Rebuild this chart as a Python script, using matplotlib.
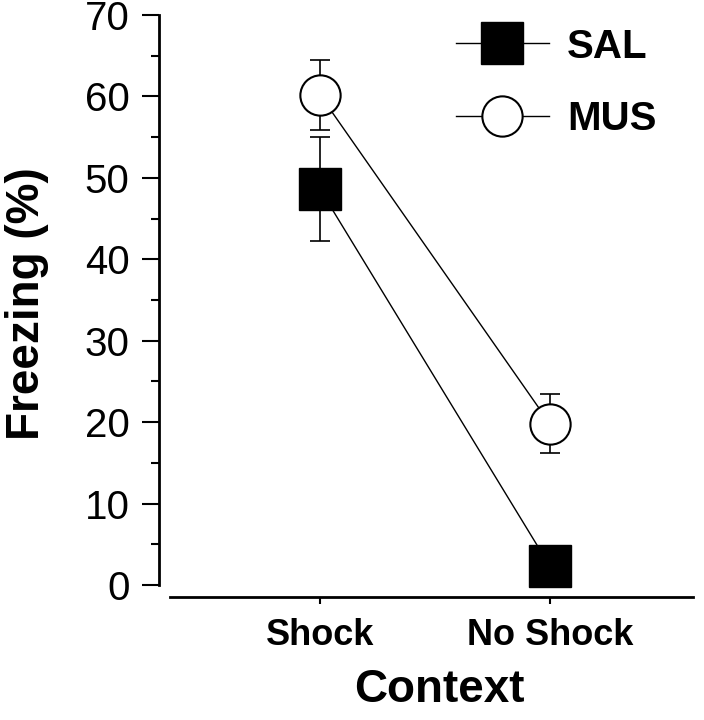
import matplotlib
matplotlib.use('Agg')
import matplotlib.pyplot as plt

# data
contexts = ['Shock', 'No Shock']
sal_mean = [48.6, 2.3]
sal_err = [6.4, 1.0]
mus_mean = [60.2, 19.8]
mus_err = [4.3, 3.6]

plt.rcParams['font.family'] = ['Liberation Sans', 'DejaVu Sans']

fig = plt.figure(figsize=(7.04, 7.20), dpi=100)
ax = fig.add_axes([170 / 704, 135 / 720, 523 / 704, 570 / 720])

x = list(range(len(contexts)))

# error bars first, markers on top
ax.errorbar(x, sal_mean, yerr=sal_err, fmt='none', ecolor='black',
            elinewidth=1.2, capsize=7, capthick=1.2, zorder=2, clip_on=False)
ax.errorbar(x, mus_mean, yerr=mus_err, fmt='none', ecolor='black',
            elinewidth=1.2, capsize=7, capthick=1.2, zorder=2, clip_on=False)

sal_line, = ax.plot(x, sal_mean, color='black', lw=1.0, marker='s', ms=30,
                    mfc='black', mec='black', zorder=3, clip_on=False, label='SAL')
mus_line, = ax.plot(x, mus_mean, color='black', lw=1.0, marker='o', ms=29,
                    mfc='white', mec='black', mew=1.5, zorder=3, clip_on=False, label='MUS')

ax.set_xlim(-0.652, 1.622)
ax.set_ylim(0, 70)

# spines first: moving a spine resets the tick labels
for side in ['top', 'right']:
    ax.spines[side].set_visible(False)
ax.spines['left'].set_position(('outward', 8))
ax.spines['left'].set_bounds(0, 70)
ax.spines['bottom'].set_position(('outward', 8.6))
ax.spines['left'].set_linewidth(2)
ax.spines['bottom'].set_linewidth(2)

ax.set_yticks(range(0, 71, 10))
ax.set_yticks(range(5, 70, 10), minor=True)
ax.tick_params(axis='y', which='major', length=12, width=1.5, labelsize=29, pad=9)
ax.tick_params(axis='y', which='minor', length=6, width=1.5)
ax.tick_params(axis='x', which='major', length=5, width=1.5, pad=10, labelsize=26)
ax.set_xticks(x)
ax.set_xticklabels(contexts, fontweight='bold')

ax.set_ylabel('Freezing (%)', fontsize=33, fontweight='bold')
ax.yaxis.set_label_coords(-0.232, 0.493)
ax.set_xlabel('Context', fontsize=33, fontweight='bold')
ax.xaxis.set_label_coords(0.516, -0.146)

leg = ax.legend(handles=[sal_line, mus_line], loc='upper left',
                bbox_to_anchor=(0.547, 0.978), frameon=False, numpoints=1,
                prop={'size': 29, 'weight': 'bold'}, handlelength=2.3,
                handletextpad=0.45, labelspacing=0.85, borderpad=0, borderaxespad=0)

fig.savefig('out.png', dpi=100)
